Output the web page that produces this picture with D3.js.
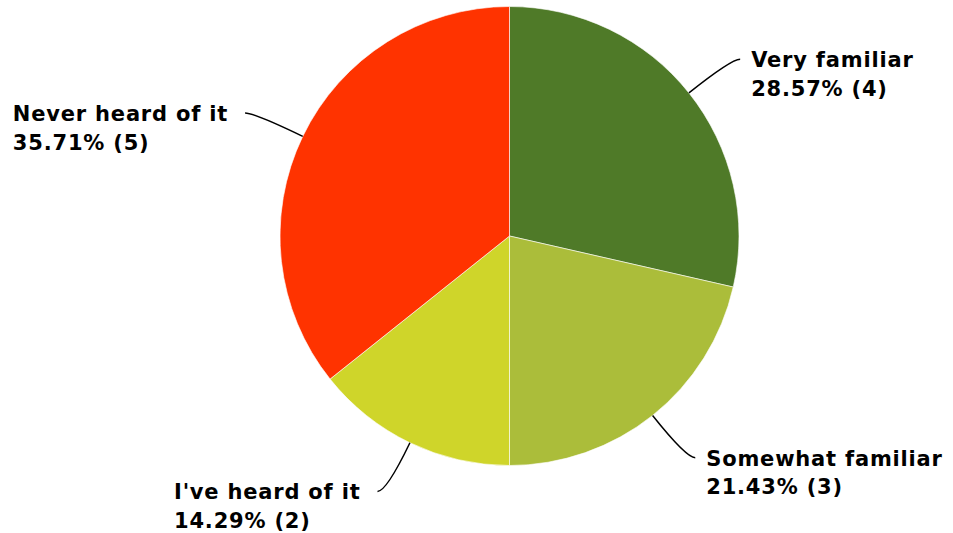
<!DOCTYPE html>
<html>
<head>
<meta charset="utf-8">
<script src="https://cdn.jsdelivr.net/npm/d3@7"></script>
<style>
  html, body { margin: 0; padding: 0; background: #ffffff; }
  svg { display: block; }
  .lbl { font-family: "DejaVu Sans", sans-serif; font-weight: bold; font-size: 21px; letter-spacing: 0.8px; fill: #000; }
</style>
</head>
<body>
<svg id="chart" width="953" height="533"></svg>
<script>
// Survey answers and their counts
const categories = ["Very familiar", "Somewhat familiar", "I've heard of it", "Never heard of it"];
const counts = [4, 3, 2, 5];
const colors = ["#4f7a28", "#abbd3a", "#cfd52a", "#ff3300"];

const width = 953, height = 533;
const cx = 509.5, cy = 236, radius = 229.5;
const leaderOut = 54, leaderFlat = 9;

const total = d3.sum(counts);
const data = categories.map((c, i) => ({ name: c, value: counts[i], color: colors[i] }));

const svg = d3.select("#chart");
const g = svg.append("g").attr("transform", `translate(${cx},${cy})`);

const pie = d3.pie().value(d => d.value).sort(null);
const arc = d3.arc().innerRadius(0).outerRadius(radius);
const arcs = pie(data);

g.selectAll("path.slice")
  .data(arcs)
  .join("path")
  .attr("class", "slice")
  .attr("d", arc)
  .attr("fill", d => d.data.color)
  .attr("stroke", "rgba(255,255,255,0.6)")
  .attr("stroke-width", 1);

// Leader lines: radial segment bending into a short horizontal tail
const pointAt = (a, r) => [r * Math.sin(a), -r * Math.cos(a)];

arcs.forEach(d => {
  const mid = (d.startAngle + d.endAngle) / 2;
  const right = Math.sin(mid) >= 0;
  const p0 = pointAt(mid, radius);
  const p1 = pointAt(mid, radius + leaderOut);
  const p2 = [p1[0] + (right ? leaderFlat : -leaderFlat), p1[1]];

  g.append("path")
    .attr("d", `M${p0[0]},${p0[1]} Q${p1[0]},${p1[1]} ${p2[0]},${p2[1]}`)
    .attr("fill", "none")
    .attr("stroke", "#000")
    .attr("stroke-width", 1.5);

  const pct = (d.data.value / total * 100).toFixed(2) + "% (" + d.data.value + ")";
  const text = g.append("text")
    .attr("class", "lbl")
    .attr("y", p2[1] + 8);
  text.append("tspan").attr("x", 0).text(d.data.name);
  text.append("tspan").attr("x", 0).attr("dy", 28.5).text(pct);

  const w = text.node().getBBox().width;
  const tx = right ? p2[0] + 11 : p2[0] - 17 - w;
  text.attr("transform", `translate(${tx},0)`);
});
</script>
</body>
</html>
